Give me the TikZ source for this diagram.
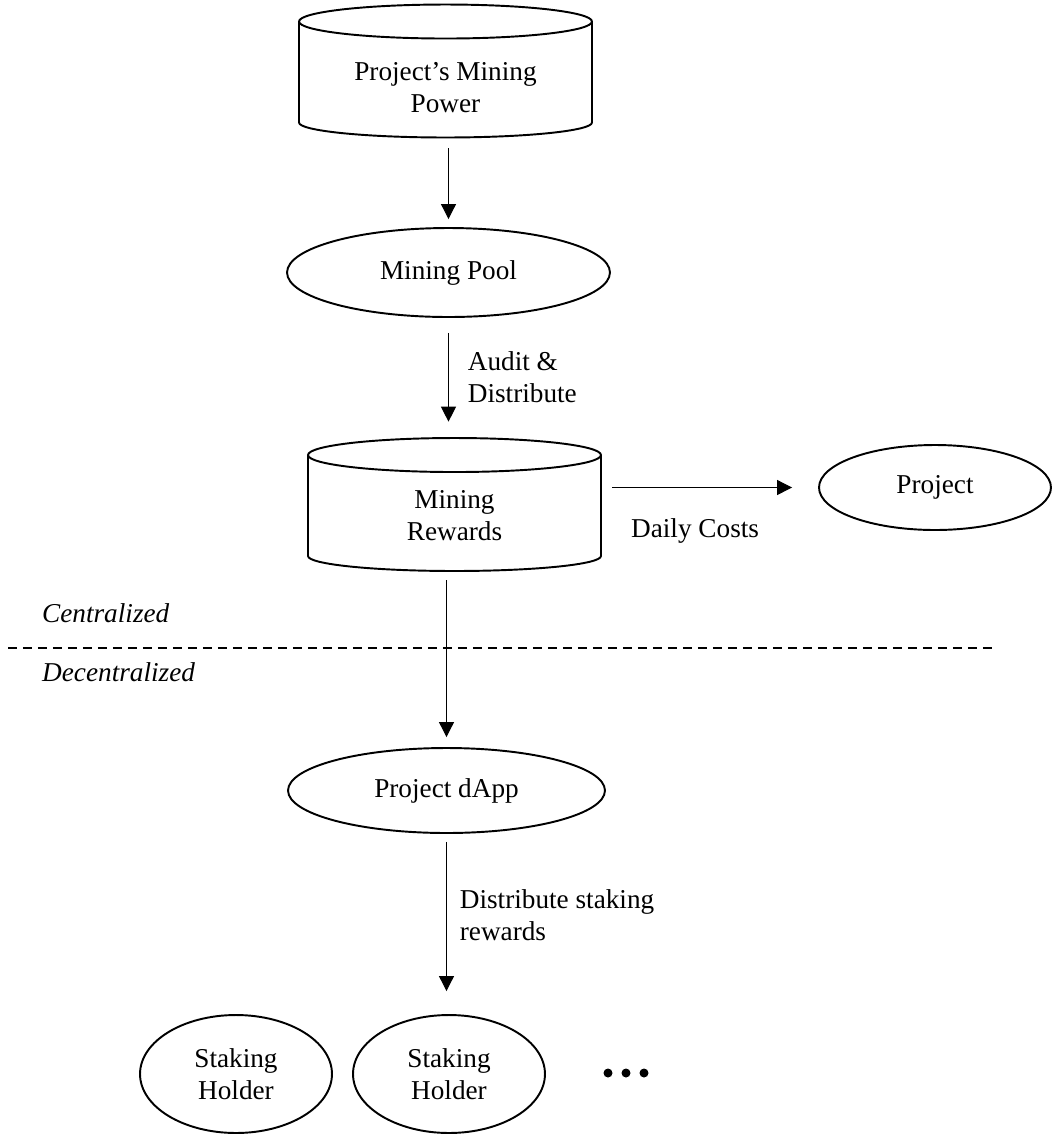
\documentclass[tikz,border=0pt]{standalone}
\usepackage{fontspec}
\setmainfont{Liberation Serif}
\usetikzlibrary{shapes.geometric, arrows.meta}

\begin{document}
\begin{tikzpicture}[x=0.02cm, y=-0.02cm, font=\fontsize{15.5}{18.2}\selectfont,
    box/.style={draw, line width=1.1pt, align=center},
    store/.style={minimum width=5.9cm, minimum height=2.7cm,
        path picture={
            \draw[line width=1.1pt, shift={(path picture bounding box.center)}]
                (0cm,0.99cm) ellipse [x radius=2.93cm, y radius=0.34cm]
                (-2.93cm,0.99cm) -- (-2.93cm,-1.03cm)
                arc [start angle=180, end angle=360, x radius=2.93cm, y radius=0.3cm]
                -- (2.93cm,0.99cm);
        }},
    oval/.style={box, ellipse},
    flow/.style={line width=0.6pt, -{Triangle[length=8.5pt, width=8.5pt]}}]
    \useasboundingbox (0,0) rectangle (1052,1134);
    \node[store, label={[align=center, yshift=-0.33cm]center:{Project's Mining\\Power}}] (power) at (445.5,71) {};
    \node[oval, minimum width=6.46cm, minimum height=1.78cm] (pool) at (448.5,272.5) {Mining Pool};
    \node[store, label={[align=center, yshift=-0.23cm]center:{Mining\\Rewards}}] (rewards) at (454.5,504.5) {};
    \node[oval, minimum width=4.64cm, minimum height=1.7cm] (project) at (935,487.5) {Project};
    \node[oval, minimum width=6.34cm, minimum height=1.7cm] (dapp) at (446.5,790.5) {Project dApp};
    \node[oval, minimum width=3.84cm, minimum height=2.36cm] (holderone) at (236,1074) {Staking\\Holder};
    \node[oval, minimum width=3.84cm, minimum height=2.36cm] (holdertwo) at (449,1074) {Staking\\Holder};
    \foreach \d in {608,626,644} \fill (\d,1073) circle (0.09cm);
    % centralized / decentralized border
    \coordinate (westend) at (8,648);
    \coordinate (eastend) at (993,648);
    \draw[line width=0.6pt, dash pattern=on 0.18cm off 0.12cm] (westend) -- (eastend);
    \node[right, font=\fontsize{15.5}{18.2}\selectfont\itshape] (central) at (36,613) {Centralized};
    \node[right, font=\fontsize{15.5}{18.2}\selectfont\itshape] (decentral) at (36,672) {Decentralized};
    % flows
    \draw[flow, shorten <=0.19cm, shorten >=0.16cm] (pool.north |- power.south) -- (pool.north);
    \draw[flow, shorten <=0.3cm, shorten >=0.3cm] (pool.south) -- (pool.south |- rewards.north)
        node[midway, right=0.26cm, align=left] {Audit \&\\Distribute};
    \draw[flow, shorten <=0.2cm, shorten >=0.52cm] (rewards.east |- project.west) -- (project.west)
        node[pos=0.43, below=0.5cm] {Daily Costs};
    \draw[flow, shorten <=0.16cm, shorten >=0.2cm] (dapp.north |- rewards.south) -- (dapp.north);
    \draw[flow, shorten <=0.16cm, shorten >=0.46cm] (dapp.south) -- (dapp.south |- holdertwo.north)
        node[pos=0.45, right=0.14cm, align=left] {Distribute staking\\rewards};
\end{tikzpicture}
\end{document}
